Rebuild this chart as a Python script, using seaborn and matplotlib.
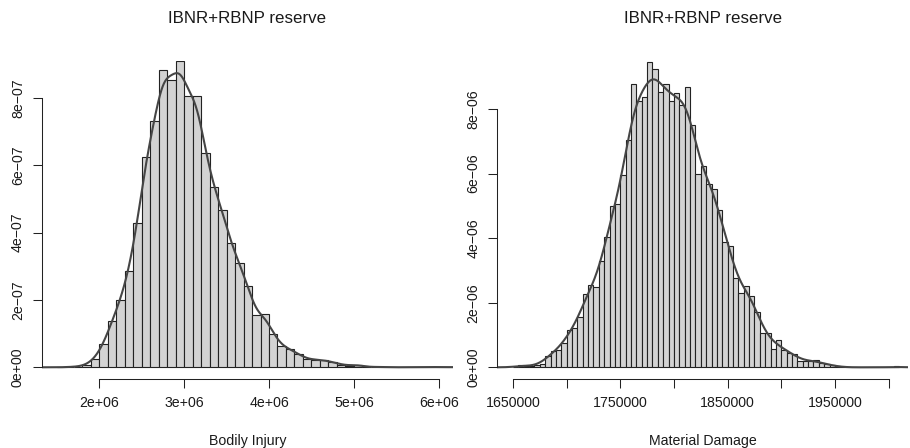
import numpy as np
import pandas as pd
import matplotlib
matplotlib.use("Agg")
import matplotlib.pyplot as plt
import seaborn as sns

# ---------------- data ----------------
# Bodily Injury histogram (bin width 100000, densities in units of 1e-7)
bi_start = 1500000
bi_width = 100000
bi_density_e7 = [0.00, 0.01, 0.02, 0.07, 0.26, 0.68, 1.38, 2.00, 2.86, 4.29,
                 6.25, 7.31, 8.83, 8.53, 9.09, 8.07, 8.07, 6.37, 5.35, 4.66,
                 3.68, 3.10, 2.43, 1.54, 1.58, 0.99, 0.63, 0.54, 0.39, 0.24,
                 0.23, 0.21, 0.16, 0.08, 0.05, 0.08, 0.01, 0.01, 0.01, 0.00,
                 0.00, 0.01, 0.00, 0.01, 0.01, 0.00, 0.01]

# Material Damage histogram (bin width 5000, densities in units of 1e-6)
md_start = 1650000
md_width = 5000
md_density_e6 = [0.02, 0.06, 0.04, 0.04, 0.06, 0.10, 0.36, 0.49, 0.54, 0.74,
                 1.16, 1.21, 1.56, 2.28, 2.55, 2.48, 3.30, 4.02, 5.00, 5.05,
                 5.95, 7.04, 8.76, 8.25, 8.36, 9.46, 9.24, 8.51, 8.76, 8.25,
                 8.48, 8.12, 8.67, 7.50, 6.00, 6.23, 5.68, 5.51, 4.87, 3.87,
                 3.76, 2.76, 2.29, 2.52, 2.21, 1.71, 1.07, 1.07, 0.56, 0.83,
                 0.53, 0.43, 0.42, 0.21, 0.19, 0.19, 0.24, 0.12, 0.09, 0.06,
                 0.03, 0.00, 0.00, 0.00, 0.00, 0.00, 0.00, 0.00, 0.00, 0.00,
                 0.00, 0.03]

title_text = "IBNR+RBNP reserve"
bi_xlabel = "Bodily Injury"
md_xlabel = "Material Damage"

bi_xticks = [2e6, 3e6, 4e6, 5e6, 6e6]
bi_xticklabels = ["2e+06", "3e+06", "4e+06", "5e+06", "6e+06"]
bi_yticks = [0, 2e-7, 4e-7, 6e-7, 8e-7]
bi_yticklabels = ["0e+00", "2e\u221207", "4e\u221207", "6e\u221207", "8e\u221207"]

md_xticks = [1650000, 1700000, 1750000, 1800000, 1850000, 1900000, 1950000, 2000000]
md_xticklabels = ["1650000", "", "1750000", "", "1850000", "", "1950000", ""]
md_yticks = [0, 2e-6, 4e-6, 6e-6, 8e-6]
md_yticklabels = ["0e+00", "2e\u221206", "4e\u221206", "6e\u221206", "8e\u221206"]

# ---------------- style ----------------
sns.set_style("white")
plt.rcParams["font.family"] = ["Liberation Sans", "DejaVu Sans"]
plt.rcParams["axes.edgecolor"] = "#222222"

BAR_FILL = "#d3d3d3"
BAR_EDGE = "#222222"
CURVE = "#454545"
TXT = "#1a1a1a"
FS = 10.2
FS_TITLE = 12.2


def build(start, width, vals, scale):
    n = len(vals)
    centers = start + width * np.arange(n) + width / 2
    df = pd.DataFrame({"x": centers, "w": np.array(vals) * scale})
    return (start, start + width * n), df


fig = plt.figure(figsize=(9.10, 4.48), dpi=100)
W, H = 910.0, 448.0

panels = [
    dict(left=41.7, right=453.0, start=bi_start, width=bi_width, vals=bi_density_e7,
         scale=1e-7, xlim=(1.321e6, 6.1685e6), ylim=(-0.3476e-7, 9.10e-7),
         bw=0.155, cut=2, xt=bi_xticks, xtl=bi_xticklabels, yt=bi_yticks, ytl=bi_yticklabels,
         xb=(2e6, 6e6), yb=(0, 8e-7), xlabel=bi_xlabel),
    dict(left=497.3, right=908.0, start=md_start, width=md_width, vals=md_density_e6,
         scale=1e-6, xlim=(1635370, 2018128), ylim=(-0.362e-6, 9.483e-6),
         bw=0.165, cut=3, xt=md_xticks, xtl=md_xticklabels, yt=md_yticks, ytl=md_yticklabels,
         xb=(1650000, 2000000), yb=(0, 8e-6), xlabel=md_xlabel),
]

top_px, bot_px = 61.0, 379.0
for p in panels:
    ax = fig.add_axes([p["left"] / W, (H - bot_px) / H,
                       (p["right"] - p["left"]) / W, (bot_px - top_px) / H])
    brange, df = build(p["start"], p["width"], p["vals"], p["scale"])
    sns.histplot(data=df, x="x", weights="w", binwidth=p["width"], binrange=brange,
                 stat="count", color=BAR_FILL, edgecolor=BAR_EDGE, linewidth=0.8,
                 alpha=1.0, ax=ax)
    sns.kdeplot(data=df, x="x", weights="w", bw_method=p["bw"], cut=p["cut"], gridsize=1500,
                color=CURVE, linewidth=1.5, ax=ax)
    ax.set_xlim(*p["xlim"])
    ax.set_ylim(*p["ylim"])
    ax.set_xticks(p["xt"])
    ax.set_xticklabels(p["xtl"], fontsize=FS, color=TXT)
    ax.set_yticks(p["yt"])
    ax.set_yticklabels(p["ytl"], fontsize=FS, color=TXT, rotation=90, va="center")
    ax.tick_params(axis="x", bottom=True, direction="out", length=9.3 * 0.72, width=0.75,
                   pad=5.6, colors="#222222")
    ax.tick_params(axis="y", left=True, direction="out", length=9.5 * 0.72, width=0.75,
                   pad=5.2, colors="#222222")
    for lab in ax.get_xticklabels() + ax.get_yticklabels():
        lab.set_color(TXT)
    for s in ["top", "right"]:
        ax.spines[s].set_visible(False)
    ax.spines["left"].set_bounds(*p["yb"])
    ax.spines["bottom"].set_bounds(*p["xb"])
    ax.spines["left"].set_linewidth(0.75)
    ax.spines["bottom"].set_linewidth(0.75)
    ax.set_ylabel("")
    ax.set_xlabel(p["xlabel"], fontsize=FS, color=TXT, va="center")
    ax.xaxis.set_label_coords(0.5, (bot_px - 441.0) / (bot_px - top_px))
    ax.set_title(title_text, fontsize=FS_TITLE, color=TXT, y=(bot_px - 19.0) / (bot_px - top_px),
                 va="center", pad=0)

fig.savefig("out.png", dpi=100, facecolor="white")
